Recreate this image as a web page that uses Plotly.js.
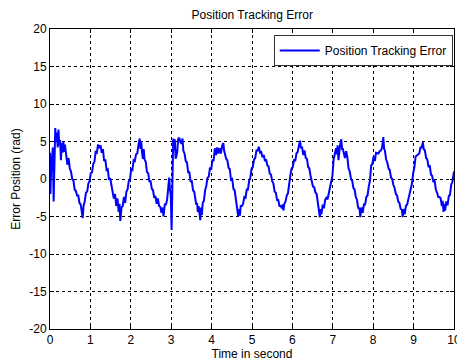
<!DOCTYPE html>
<html>
<head>
<meta charset="utf-8">
<script src="https://cdn.plot.ly/plotly-3.0.1.min.js"></script>
<style>html,body{margin:0;padding:0;background:#fff;}#chart{width:457px;height:363px;}</style>
</head>
<body>
<div id="chart"></div>
<script>
const seriesName = "Position Tracking Error";
const time = [
0.00,0.01,0.03,0.05,0.07,0.09,0.11,0.13,0.15,0.17,0.19,0.21,0.23,0.25,0.27,0.29,0.31,0.33,0.35,0.37,
0.40,0.43,0.46,0.49,0.52,0.55,0.58,0.61,0.64,0.67,0.70,0.73,0.76,0.79,0.81,0.83,0.86,0.89,0.92,0.95,
0.98,1.01,1.04,1.07,1.10,1.13,1.16,1.19,1.22,1.25,1.28,1.31,1.34,1.37,1.40,1.43,1.46,1.49,1.52,1.55,
1.58,1.61,1.64,1.67,1.70,1.72,1.74,1.77,1.80,1.83,1.86,1.89,1.92,1.95,1.98,2.01,2.04,2.07,2.10,2.13,
2.16,2.19,2.22,2.24,2.26,2.28,2.30,2.32,2.34,2.37,2.40,2.43,2.46,2.49,2.52,2.55,2.58,2.61,2.64,2.67,
2.70,2.73,2.76,2.79,2.81,2.84,2.87,2.90,2.93,2.95,2.97,2.99,3.01,3.03,3.05,3.07,3.09,3.11,3.13,3.15,
3.17,3.20,3.23,3.26,3.28,3.30,3.33,3.36,3.39,3.42,3.45,3.48,3.51,3.54,3.57,3.60,3.62,3.64,3.66,3.68,
3.70,3.72,3.74,3.76,3.78,3.81,3.84,3.87,3.90,3.93,3.96,3.99,4.02,4.05,4.08,4.11,4.14,4.17,4.20,4.23,
4.26,4.29,4.31,4.33,4.36,4.39,4.42,4.45,4.48,4.51,4.54,4.57,4.60,4.62,4.64,4.66,4.68,4.70,4.72,4.75,
4.78,4.81,4.84,4.87,4.90,4.93,4.96,4.99,5.02,5.05,5.08,5.11,5.14,5.17,5.20,5.23,5.26,5.29,5.32,5.35,
5.38,5.41,5.44,5.47,5.50,5.53,5.56,5.59,5.62,5.65,5.68,5.71,5.74,5.76,5.78,5.80,5.83,5.86,5.89,5.92,
5.95,5.98,6.01,6.04,6.07,6.10,6.13,6.16,6.19,6.21,6.24,6.27,6.30,6.33,6.36,6.39,6.42,6.45,6.48,6.51,
6.54,6.57,6.60,6.62,6.64,6.66,6.68,6.70,6.72,6.75,6.78,6.81,6.84,6.87,6.90,6.93,6.96,6.99,7.02,7.05,
7.08,7.10,7.12,7.14,7.16,7.18,7.21,7.23,7.25,7.28,7.30,7.33,7.36,7.39,7.42,7.45,7.48,7.51,7.54,7.57,
7.60,7.62,7.64,7.66,7.68,7.71,7.74,7.77,7.80,7.83,7.86,7.89,7.92,7.95,7.98,8.01,8.04,8.07,8.10,8.13,
8.16,8.19,8.22,8.25,8.27,8.29,8.32,8.35,8.38,8.41,8.44,8.47,8.50,8.53,8.56,8.59,8.62,8.65,8.68,8.71,
8.73,8.75,8.78,8.81,8.84,8.87,8.90,8.93,8.96,8.99,9.02,9.05,9.08,9.11,9.14,9.17,9.20,9.23,9.25,9.28,
9.31,9.34,9.37,9.40,9.43,9.46,9.49,9.52,9.55,9.58,9.61,9.64,9.67,9.70,9.72,9.74,9.76,9.78,9.81,9.84,
9.87,9.90,9.93,9.96,9.99,10.00
];
const errorPos = [
3.5,-2.0,1.5,3.8,4.2,-3.0,3.0,6.8,5.0,6.2,4.2,6.6,4.5,5.2,2.5,4.8,3.5,5.0,3.6,4.6,
3.2,1.9,2.8,1.4,1.0,0.0,-0.2,-1.4,-1.6,-2.2,-2.2,-3.2,-3.4,-4.4,-5.2,-3.6,-3.0,-1.8,-1.7,-0.6,
-0.3,0.8,0.9,2.0,2.3,3.6,3.5,4.6,4.1,4.5,3.5,4.0,2.4,2.6,1.2,1.3,-0.1,0.1,-1.0,-1.5,
-2.6,-2.0,-3.6,-2.6,-4.4,-3.3,-5.6,-3.8,-3.6,-2.4,-3.2,-1.7,-1.4,-0.3,-0.1,1.3,1.2,2.5,2.4,3.3,
3.4,4.5,5.4,4.0,4.9,3.4,2.7,4.0,2.6,2.3,0.9,0.8,-0.3,-0.3,-1.3,-1.5,-2.5,-2.3,-3.3,-2.6,
-3.6,-3.7,-4.5,-3.8,-5.0,-3.4,-3.4,-2.7,-0.3,0.2,-1.4,-2.2,-6.8,2.0,5.4,3.8,5.3,2.7,3.2,3.6,
5.3,5.5,4.9,4.7,5.4,3.8,3.4,2.4,2.2,0.9,0.9,-0.3,-0.3,-1.5,-1.7,-2.9,-3.4,-3.2,-4.4,-3.6,
-4.9,-5.5,-3.8,-4.8,-3.2,-2.9,-1.5,-0.9,0.2,0.3,1.5,1.3,2.5,2.5,4.1,3.2,4.2,3.4,4.1,3.4,
4.4,4.8,3.8,3.4,2.7,2.5,1.5,1.3,-0.1,0.0,-1.3,-1.5,-2.7,-3.0,-4.2,-5.0,-4.0,-4.9,-3.6,-3.6,
-3.3,-2.4,-2.5,-1.4,-1.4,-0.2,0.2,1.4,1.6,2.6,2.8,3.8,3.8,4.3,3.5,3.6,2.9,3.2,2.4,2.6,
1.8,1.7,0.7,0.6,-0.3,-0.6,-1.7,-1.8,-2.8,-2.8,-3.6,-3.6,-3.9,-3.4,-4.2,-3.3,-3.0,-2.2,-1.9,-0.5,
0.5,1.4,1.6,2.6,2.4,3.4,3.6,4.4,5.1,4.2,4.2,3.2,3.8,2.8,2.7,1.6,1.4,0.4,-0.2,-1.0,
-1.1,-1.8,-2.0,-3.0,-3.2,-4.2,-5.1,-4.0,-4.7,-3.4,-3.9,-2.8,-2.5,-2.7,-1.8,-1.4,-0.4,0.4,2.6,3.5,
4.1,3.3,4.5,2.5,3.7,4.5,5.3,4.0,4.0,3.0,2.8,3.7,2.9,1.4,1.0,0.0,-0.2,-1.2,-1.4,-2.4,
-2.8,-3.6,-4.0,-3.8,-5.1,-3.8,-4.5,-3.4,-3.4,-2.4,-2.2,-1.0,-0.2,1.8,2.0,3.0,2.4,3.5,3.4,3.4,
3.7,3.8,4.2,5.6,4.0,3.8,2.6,2.2,1.4,1.2,0.2,0.0,-0.8,-1.2,-2.0,-2.2,-3.0,-3.2,-4.0,-4.1,
-5.1,-4.0,-4.7,-3.6,-3.4,-2.6,-2.2,-1.0,-0.6,0.8,1.6,3.0,3.1,3.2,3.4,4.2,4.2,4.9,4.0,3.8,
2.8,2.6,1.6,1.8,0.6,0.4,-0.4,-0.2,-1.4,-1.8,-2.4,-2.4,-2.6,-3.6,-2.9,-4.4,-3.3,-4.2,-3.0,-3.5,
-2.3,-2.1,-0.8,-0.4,0.9,1.0
];
const xTicks = [0,1,2,3,4,5,6,7,8,9,10];
const yTicks = [-20,-15,-10,-5,0,5,10,15,20];

const font = {family: "Liberation Sans, Arial, sans-serif", size: 12, color: "#000"};
const axisCommon = {
  showline: true, linecolor: "#000", linewidth: 1, mirror: "allticks",
  ticks: "inside", ticklen: 4, tickcolor: "#000", tickwidth: 1,
  showgrid: true, gridcolor: "#000", gridwidth: 1, griddash: "3px,3px",
  zeroline: false, tickfont: font, tickmode: "array", ticklabeloverflow: "allow"
};
const layout = {
  width: 457, height: 363,
  margin: {l: 50, r: 3, t: 29, b: 34},
  paper_bgcolor: "#fff", plot_bgcolor: "#fff",
  font: font,
  title: {text: "Position Tracking Error", font: {family: font.family, size: 12, color: "#000"},
          x: 0.552, xanchor: "center", y: 0.958, yanchor: "middle", yref: "container"},
  xaxis: Object.assign({}, axisCommon, {
    range: [0, 10], tickvals: xTicks, ticktext: xTicks.map(String),
    title: {text: "Time in second", font: {family: font.family, size: 12, color: "#000"}, standoff: 1}
  }),
  yaxis: Object.assign({}, axisCommon, {
    range: [-20, 20], tickvals: yTicks, ticktext: yTicks.map(String),
    title: {text: "Error Position (rad)", font: {family: font.family, size: 12, color: "#000"}, standoff: 6}
  }),
  showlegend: true,
  legend: {x: 0.997, xanchor: "right", y: 0.98, yanchor: "top",
           bgcolor: "#fff", bordercolor: "#333", borderwidth: 1, itemwidth: 40,
           font: {family: font.family, size: 12, color: "#000"}}
};
const trace = {
  x: time, y: errorPos, type: "scatter", mode: "lines",
  name: seriesName, line: {color: "#0000ff", width: 2}
};
Plotly.newPlot("chart", [trace], layout, {displayModeBar: false, staticPlot: true});
</script>
</body>
</html>
